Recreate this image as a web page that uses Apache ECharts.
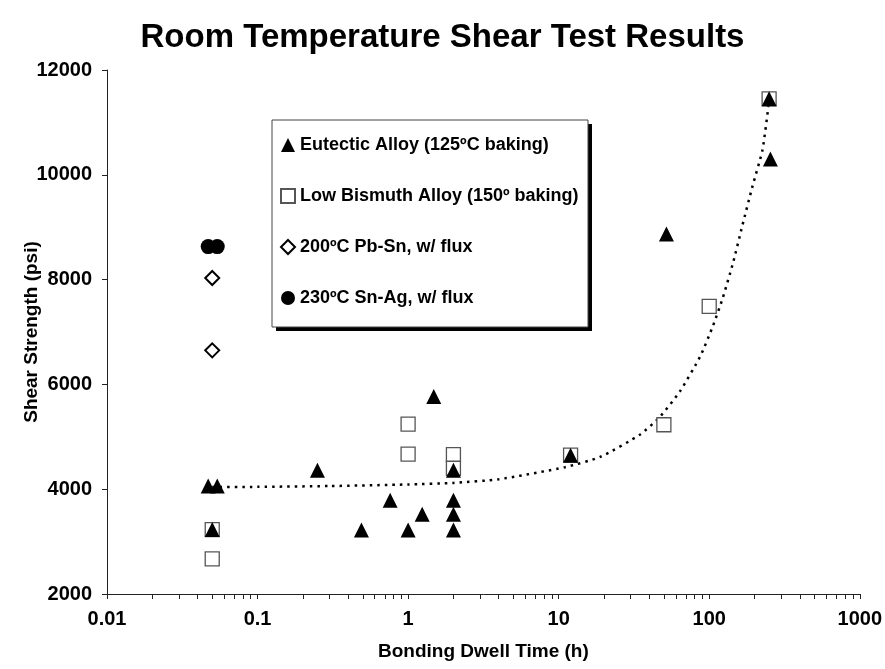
<!DOCTYPE html>
<html><head><meta charset="utf-8">
<script src="https://cdn.jsdelivr.net/npm/echarts@6/dist/echarts.min.js"></script>
<style>html,body{margin:0;padding:0;background:#fff}#c{width:885px;height:669px}</style>
</head><body><div id="c"></div>
<script>
const titleText = 'Room Temperature Shear Test Results';
const xName = 'Bonding Dwell Time (h)';
const yName = 'Shear Strength (psi)';
const seriesNames = ['Eutectic Alloy (125ºC baking)', 'Low Bismuth Alloy (150º baking)', '200ºC Pb-Sn, w/ flux', '230ºC Sn-Ag, w/ flux'];

const eutecticX = [0.047, 0.054, 0.05, 0.25, 0.49, 0.76, 1, 1.24, 1.48, 2, 2, 2, 2, 12, 52, 250, 255];
const eutecticY = [4060, 4060, 3230, 4360, 3220, 3790, 3220, 3520, 5770, 4360, 3790, 3520, 3220, 4650, 8870, 11450, 10300];

const bismuthX = [0.05, 0.05, 1, 1, 2, 2, 12, 50, 100, 250];
const bismuthY = [3230, 2670, 5240, 4670, 4660, 4400, 4650, 5230, 7490, 11450];

const pbSnX = [0.05, 0.05];
const pbSnY = [8030, 6650];

const snAgX = [0.047, 0.054];
const snAgY = [8630, 8630];

const trendX = [0.05, 0.1, 0.3, 1, 2, 4, 11, 19, 35, 47, 64, 87, 106, 123, 144, 166, 193, 226, 250];
const trendY = [4040, 4045, 4060, 4090, 4120, 4190, 4420, 4620, 5050, 5380, 5870, 6530, 7120, 7650, 8320, 9030, 9760, 10480, 11420];

const xTickLabels = ['0.01', '0.1', '1', '10', '100', '1000'];
const xTickValues = [0.01, 0.1, 1, 10, 100, 1000];
const xMinorTickValues = [0.02,0.03,0.04,0.05,0.06,0.07,0.08,0.09,0.2,0.3,0.4,0.5,0.6,0.7,0.8,0.9,2,3,4,5,6,7,8,9,20,30,40,50,60,70,80,90,200,300,400,500,600,700,800,900];
const yMin = 2000, yMax = 12000, yStep = 2000;

function pts(xs, ys) { return xs.map((x, i) => [x, ys[i]]); }

const FONT = 'Liberation Sans';
const chart = echarts.init(document.getElementById('c'), null, {renderer: 'canvas'});
chart.setOption({
  animation: false,
  backgroundColor: '#fff',
  title: {
    text: titleText, left: 'center', top: 16,
    textStyle: {fontFamily: FONT, fontWeight: 'bold', fontSize: 33, color: '#000'}
  },
  grid: {left: 107, right: 25, top: 70, bottom: 75},
  graphic: [
    {type: 'rect', z: 6, shape: {x: 276, y: 124, width: 316, height: 207}, style: {fill: '#000'}, silent: true},
    {type: 'rect', z: 7, shape: {x: 272, y: 120, width: 316, height: 207}, style: {fill: '#fff', stroke: '#444', lineWidth: 1}, silent: true}
  ],
  legend: {
    orient: 'vertical', left: 272, top: 120, z: 10,
    data: seriesNames,
    itemGap: 31, itemWidth: 14, itemHeight: 14,
    padding: [15, 4, 19, 8],
    backgroundColor: 'transparent', borderWidth: 0,
    textStyle: {fontFamily: FONT, fontSize: 18, fontWeight: 'bold', color: '#000', lineHeight: 20},
    selectedMode: false
  },
  xAxis: {
    type: 'log', logBase: 10, min: 0.01, max: 1000,
    name: xName, nameLocation: 'middle', nameGap: 48, nameMoveOverlap: false,
    nameTextStyle: {fontFamily: FONT, fontWeight: 'bold', fontSize: 19, color: '#000'},
    axisLine: {lineStyle: {color: '#222', width: 1}},
    axisTick: {show: true, inside: false, length: 5, lineStyle: {color: '#222'}, customValues: xTickValues.concat(xMinorTickValues)},
    axisLabel: {margin: 15, fontFamily: FONT, fontWeight: 'bold', fontSize: 20, color: '#000',
      formatter: v => xTickLabels[Math.round(Math.log10(v)) + 2]},
    splitLine: {show: false}
  },
  yAxis: {
    type: 'value', min: yMin, max: yMax, interval: yStep,
    name: yName, nameLocation: 'middle', nameGap: 66, nameRotate: 90, nameMoveOverlap: false,
    nameTextStyle: {fontFamily: FONT, fontWeight: 'bold', fontSize: 19, color: '#000'},
    axisLine: {show: true, lineStyle: {color: '#222', width: 1}},
    axisTick: {show: true, inside: false, length: 5, lineStyle: {color: '#222'}},
    axisLabel: {margin: 15, fontFamily: FONT, fontWeight: 'bold', fontSize: 20, color: '#000',
      formatter: v => String(v)},
    splitLine: {show: false}
  },
  series: [
    {name: seriesNames[0], type: 'scatter', symbol: 'triangle', symbolSize: 15, z: 4,
      itemStyle: {color: '#000', opacity: 1}, data: pts(eutecticX, eutecticY)},
    {name: seriesNames[1], type: 'scatter', symbol: 'rect', symbolSize: 14, z: 3,
      itemStyle: {color: '#fff', borderColor: '#555', borderWidth: 1.3, opacity: 1}, data: pts(bismuthX, bismuthY)},
    {name: seriesNames[2], type: 'scatter', symbol: 'diamond', symbolSize: 14, z: 3,
      itemStyle: {color: '#fff', borderColor: '#000', borderWidth: 2, opacity: 1}, data: pts(pbSnX, pbSnY)},
    {name: seriesNames[3], type: 'scatter', symbol: 'circle', symbolSize: 15, z: 3,
      itemStyle: {color: '#000', opacity: 1}, data: pts(snAgX, snAgY)},
    {name: 'trend', type: 'line', showSymbol: false, symbol: 'none', smooth: 0.2, z: 2, silent: true,
      lineStyle: {color: '#000', width: 2.5, type: [2.5, 5]}, data: pts(trendX, trendY)}
  ]
});
</script>
</body></html>
